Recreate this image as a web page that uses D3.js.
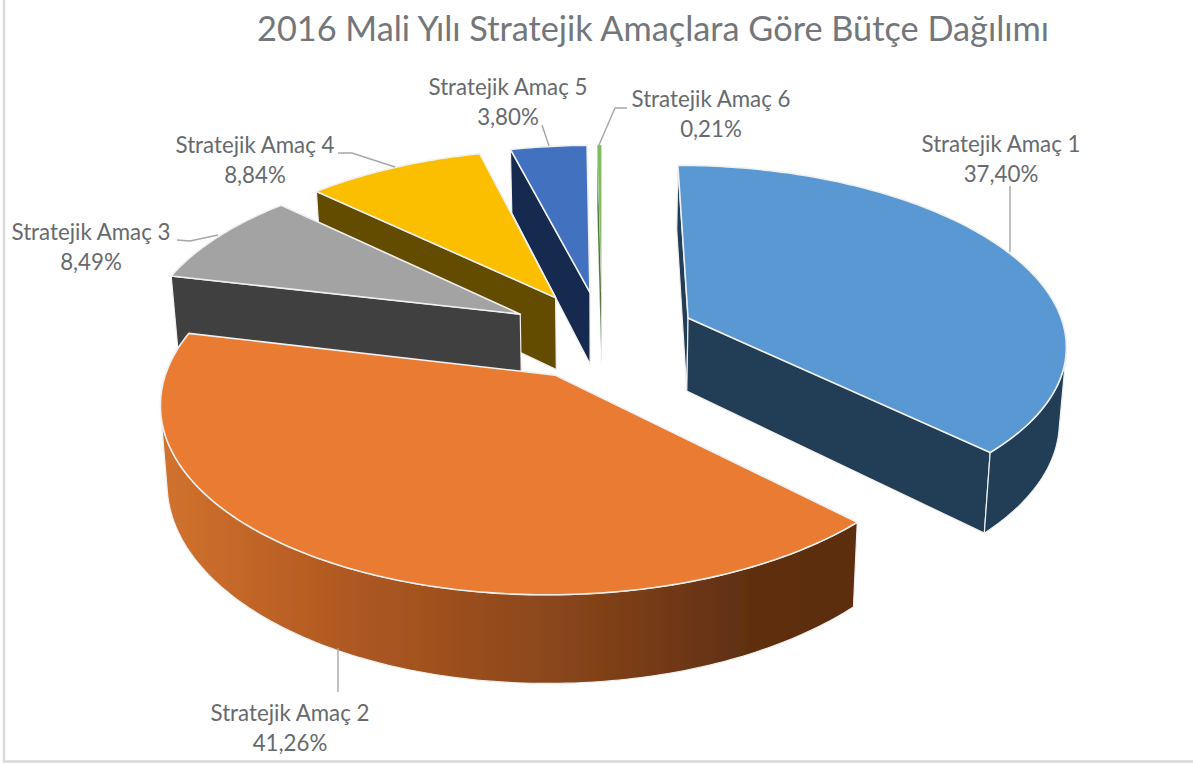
<!DOCTYPE html>
<html><head><meta charset="utf-8">
<script src="https://cdn.jsdelivr.net/npm/d3@7"></script>
<style>html,body{margin:0;padding:0;background:#fff}svg{display:block}text{font-family:Lato,"Open Sans",sans-serif}</style>
</head><body><svg id="c" width="1193" height="764"></svg>
<script>
const categories=["Stratejik Amaç 1","Stratejik Amaç 2","Stratejik Amaç 3","Stratejik Amaç 4","Stratejik Amaç 5","Stratejik Amaç 6"];
const values=[37.40,41.26,8.49,8.84,3.80,0.21];
const percentLabels=["37,40%","41,26%","8,49%","8,84%","3,80%","0,21%"];
const topColors=["#5a98d4","#e97b30","#a3a3a3","#fcbf00","#4271c0","#7fbb5c"];
const wallColors=["#233d56","url(#og)","#404040","#644b00","#172b4f","#43682b"];
const title="2016 Mali Yılı Stratejik Amaçlara Göre Bütçe Dağılımı";

// label layout: [centre x, first baseline, leader points]
const labelLayout=[
 [1001,152,[[1010,186],[1010,252]]],
 [290,721,[[338,648],[338,692]]],
 [91,240,[[177,240],[190,241],[218,235]]],
 [255,153,[[338,153],[352,153],[395,167]]],
 [508,95,[[542,125],[549,146]]],
 [711,107,[[627,108],[615,108],[599,145]]]
];

const svg=d3.select("#c");
const defs=svg.append("defs");
const og=defs.append("linearGradient").attr("id","og").attr("gradientUnits","userSpaceOnUse")
  .attr("x1",160).attr("x2",855).attr("y1",0).attr("y2",0);
[[0,"#d2722e"],[.25,"#b25a22"],[.6,"#86441a"],[.85,"#5f2f11"],[1,"#5c2d10"]].forEach(s=>og.append("stop").attr("offset",s[0]).attr("stop-color",s[1]));
defs.append("filter").attr("id","soft").attr("x","-5%").attr("y","-5%").attr("width","110%").attr("height","110%")
  .append("feGaussianBlur").attr("stdDeviation",0.45);

// frame
svg.append("path").attr("d","M4,0V761.5H1193").attr("fill","none").attr("stroke","#d9d9d9").attr("stroke-width",2.5);

// 3D projection of the unit pie plane
const cx=602,cy=335,R=378,A=177.8,K=0.136,D=74,EXPL=0.25,ZF=0.985;
function proj(X,Y,bottom){
  const w=1/(1-K*Y);
  const f=bottom?ZF:1;
  return [cx+R*X*w*f, cy+A*Y*w+(bottom?D*w:0)];
}
const pie=d3.pie().sort(null).value(d=>d).startAngle(0).endAngle(2*Math.PI);
const arcs=pie(values);
const line=d3.line();
const area=p=>{let s=0;p.forEach((q,i)=>{const n=p[(i+1)%p.length];s+=q[0]*n[1]-n[0]*q[1];});return s;};

const order=[5,4,3,2,0,1];
const g=svg.append("g").attr("filter","url(#soft)");
order.forEach(i=>{
  const a=arcs[i],mid=(a.startAngle+a.endAngle)/2;
  const ox=Math.sin(mid)*EXPL,oy=-Math.cos(mid)*EXPL;
  const pt=(th,b)=>proj(ox+Math.sin(th),oy-Math.cos(th),b);
  const apex=b=>proj(ox,oy,b);
  const n=Math.max(4,Math.ceil((a.endAngle-a.startAngle)*60));
  const ths=d3.range(n+1).map(k=>a.startAngle+(a.endAngle-a.startAngle)*k/n);
  const sw=i===5?0.3:1.6, stroke="#f0f0f0";
  const wall=(pts)=>g.append("path").attr("d",line(pts)+"Z").attr("fill",wallColors[i])
    .attr("stroke",stroke).attr("stroke-width",i===5?0.3:1.2).attr("stroke-linejoin","round");
  // radial walls
  const U0=apex(false),U1=apex(true);
  const s0=pt(a.startAngle,false),s1=pt(a.startAngle,true);
  const e0=pt(a.endAngle,false),e1=pt(a.endAngle,true);
  const q1=[U0,s0,s1,U1],q2=[e0,U0,U1,e1];
  if(area(q1)<0)wall(q1);
  if(area(q2)<0)wall(q2);
  // outer wall: contiguous run of front-facing segments
  const run=[];
  for(let k=0;k<n;k++){
    const q=[pt(ths[k],false),pt(ths[k+1],false),pt(ths[k+1],true),pt(ths[k],true)];
    if(area(q)<0){ if(!run.length)run.push(ths[k]); run.push(ths[k+1]); }
  }
  if(run.length>1){
    wall(run.map(t=>pt(t,false)).concat(run.slice().reverse().map(t=>pt(t,true))));
  }
  // top face
  const top=[U0].concat(ths.map(t=>pt(t,false)));
  g.append("path").attr("d",line(top)+"Z").attr("fill",topColors[i]).attr("stroke",stroke)
   .attr("stroke-width",sw).attr("stroke-linejoin","round");
});

// leaders
labelLayout.forEach(l=>{
  svg.append("path").attr("d",line(l[2])).attr("fill","none").attr("stroke","#a6a6a6").attr("stroke-width",1.4);
});
// labels
const tc="#666a6e";
categories.forEach((c,i)=>{
  const l=labelLayout[i];
  svg.append("text").attr("x",l[0]).attr("y",l[1]).attr("text-anchor","middle").attr("font-size",22.3).attr("fill",tc).text(c);
  svg.append("text").attr("x",l[0]).attr("y",l[1]+30).attr("text-anchor","middle").attr("font-size",22.3).attr("fill",tc).text(percentLabels[i]);
});
svg.append("text").attr("x",653).attr("y",41).attr("text-anchor","middle").attr("font-size",34.3).attr("fill","#73767a").text(title);
</script></body></html>
